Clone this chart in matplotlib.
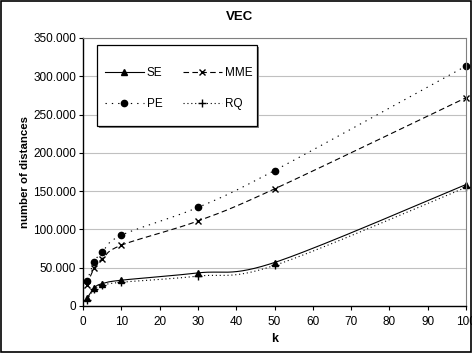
import numpy as np
import matplotlib
matplotlib.use('Agg')
import matplotlib.pyplot as plt
from matplotlib.lines import Line2D
from matplotlib.patches import Rectangle
from matplotlib.ticker import FuncFormatter

plt.rcParams['font.family'] = ['Liberation Sans', 'DejaVu Sans']

# Data
k = [1, 3, 5, 10, 30, 50, 100]
se = [9800, 24000, 29200, 33700, 43200, 56800, 158600]
mme = [28000, 50000, 61500, 79400, 111000, 152900, 272000]
pe = [32400, 58000, 70200, 92400, 128700, 176900, 313400]
rq = [8000, 22000, 27000, 31000, 39000, 53000, 155000]

y_ticks = [0, 50000, 100000, 150000, 200000, 250000, 300000, 350000]
x_ticks = [0, 10, 20, 30, 40, 50, 60, 70, 80, 90, 100]


def smooth(xs, ys, n=30):
    # Excel-style smoothed line (Bezier through the points)
    p = np.column_stack([xs, ys]).astype(float)
    p_ext = np.vstack([p[0], p, p[-1]])
    t = np.linspace(0, 1, n)[:, None]
    out = []
    for i in range(len(p) - 1):
        p0, p3 = p[i], p[i + 1]
        c1 = p0 + (p_ext[i + 2] - p_ext[i]) / 6
        c2 = p3 - (p_ext[i + 3] - p_ext[i + 1]) / 6
        seg = ((1 - t) ** 3) * p0 + 3 * ((1 - t) ** 2) * t * c1 + 3 * (1 - t) * t ** 2 * c2 + t ** 3 * p3
        out.append(seg)
    out = np.vstack(out)
    return out[:, 0], out[:, 1]


W, H = 472, 353
fig = plt.figure(figsize=(W / 100, H / 100), dpi=100)
ax = fig.add_axes([83 / W, 1 - 306 / H, (466 - 83) / W, (306 - 38) / H])

styles = {
    'SE': (se, '-', '^', 4.5),
    'MME': (mme, (0, (5, 3)), 'x', 4.5),
    'PE': (pe, (0, (1.2, 4.5)), 'o', 4.5),
    'RQ': (rq, (0, (1, 2.5)), '+', 5.5),
}
handles = {}
for name, (vals, ls, mk, ms) in styles.items():
    sx, sy = smooth(k, vals)
    ax.plot(sx, sy, color='black', linestyle=ls, linewidth=0.8)
    ax.plot(k, vals, linestyle='none', marker=mk, markersize=ms, color='black',
            markeredgewidth=1.0, clip_on=False)
    handles[name] = Line2D([], [], color='black', linestyle=ls, linewidth=0.8,
                           marker=mk, markersize=ms, markeredgewidth=1.0)

ax.set_xlim(0, 100)
ax.set_ylim(0, 350000)
ax.set_xticks(x_ticks)
ax.set_yticks(y_ticks)
ax.yaxis.set_major_formatter(FuncFormatter(lambda v, p: '0' if v == 0 else f'{int(v):,}'.replace(',', '.')))
ax.tick_params(labelsize=8.5, length=3, width=0.8, direction='out', color='black', pad=2)
ax.tick_params(axis='x', pad=4)
ax.grid(axis='y', color='#c0c0c0', linewidth=0.8)
ax.set_axisbelow(True)
for s in ['top', 'right']:
    ax.spines[s].set_color('#808080')
    ax.spines[s].set_linewidth(0.8)
for s in ['left', 'bottom']:
    ax.spines[s].set_linewidth(1.0)

ax.set_xlabel('k', fontsize=9, fontweight='bold', labelpad=4)
ax.set_ylabel('number of distances', fontsize=8.2, fontweight='bold')
ax.yaxis.set_label_coords((30 - 83) / 383, 0.5)
fig.text(240 / W, 1 - 17 / H, 'VEC', fontsize=9.5, fontweight='bold', ha='center', va='center')

# legend box with a small shadow
ax.add_patch(Rectangle((99 / W, 1 - 128 / H), 160 / W, 81 / H, transform=fig.transFigure,
                       facecolor='#808080', edgecolor='none', zorder=4, clip_on=False))
ax.add_patch(Rectangle((97 / W, 1 - 126 / H), 160 / W, 81 / H, transform=fig.transFigure,
                       facecolor='white', edgecolor='black', linewidth=0.9, zorder=4.5,
                       clip_on=False))

# column-wise fill: SE, PE in first column; MME, RQ in second
order = ['SE', 'PE', 'MME', 'RQ']
leg = ax.legend([handles[n] for n in order], order, ncol=2, loc='upper left',
                bbox_to_anchor=(105 / W, 1 - 67 / H), bbox_transform=fig.transFigure,
                fontsize=8.5, frameon=False, handlelength=3.3,
                handletextpad=0.25, columnspacing=1.7, labelspacing=1.6,
                borderpad=0, borderaxespad=0)
leg.set_zorder(6)

fig.patches.append(Rectangle((0.002, 0.003), 0.995, 0.994, transform=fig.transFigure,
                             fill=False, edgecolor='black', linewidth=1.2))

fig.savefig('out.png', dpi=100)
